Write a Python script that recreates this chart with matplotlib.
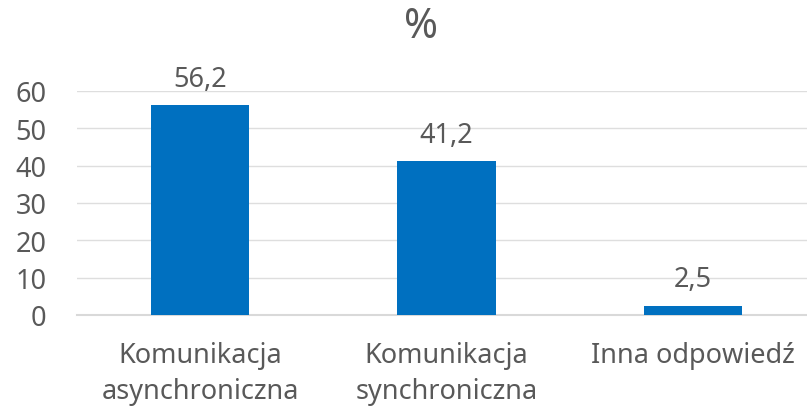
import matplotlib
matplotlib.use("Agg")
import matplotlib.pyplot as plt

categories = ["Komunikacja\nasynchroniczna", "Komunikacja\nsynchroniczna", "Inna odpowiedź"]
values = [56.2, 41.2, 2.5]
value_labels = ["56,2", "41,2", "2,5"]
yticks = [0, 10, 20, 30, 40, 50, 60]
title = "%"

plt.rcParams['font.family'] = ['Noto Sans', 'DejaVu Sans']
gray = "#595959"
fs = 19.5

W, H = 807, 410
fig = plt.figure(figsize=(W/100, H/100), dpi=100)
left, right_px = 77, 816
bottom_px, top_px = 316, 92
ax = fig.add_axes([left/W, (H-bottom_px)/H, (W-left)/W, (bottom_px-top_px)/H])
cat_w = (right_px - left) / 3
ax.set_xlim(-0.5, 2.5 - (right_px - W)/cat_w)
ax.set_ylim(0, 60)

x = range(len(categories))
bars = ax.bar(x, values, width=0.4, color="#0070C0", zorder=3)
for xi, v, lab in zip(x, values, value_labels):
    ax.annotate(lab, (xi, v), xytext=(0, 9), textcoords="offset points",
                ha="center", va="bottom", fontsize=fs, color=gray)

ax.set_yticks(yticks)
ax.set_yticklabels([str(t) for t in yticks], fontsize=fs, color=gray)
ax.set_xticks(list(x))
ax.set_xticklabels(categories, fontsize=fs, color=gray, linespacing=1.35)
ax.tick_params(axis="both", length=0)
ax.tick_params(axis="y", pad=22)
ax.tick_params(axis="x", pad=19)
ax.grid(axis="y", color="#DEDEDE", linewidth=1.0, zorder=0)
ax.set_axisbelow(True)
for s in ["top", "right", "left"]:
    ax.spines[s].set_visible(False)
ax.spines["bottom"].set_color("#D9D9D9")
ax.spines["bottom"].set_linewidth(1.5)

fig.text(421/W, 1 - 27/H, title, ha="center", va="center", fontsize=29.5, color=gray)

fig.savefig("out.png", dpi=100)
